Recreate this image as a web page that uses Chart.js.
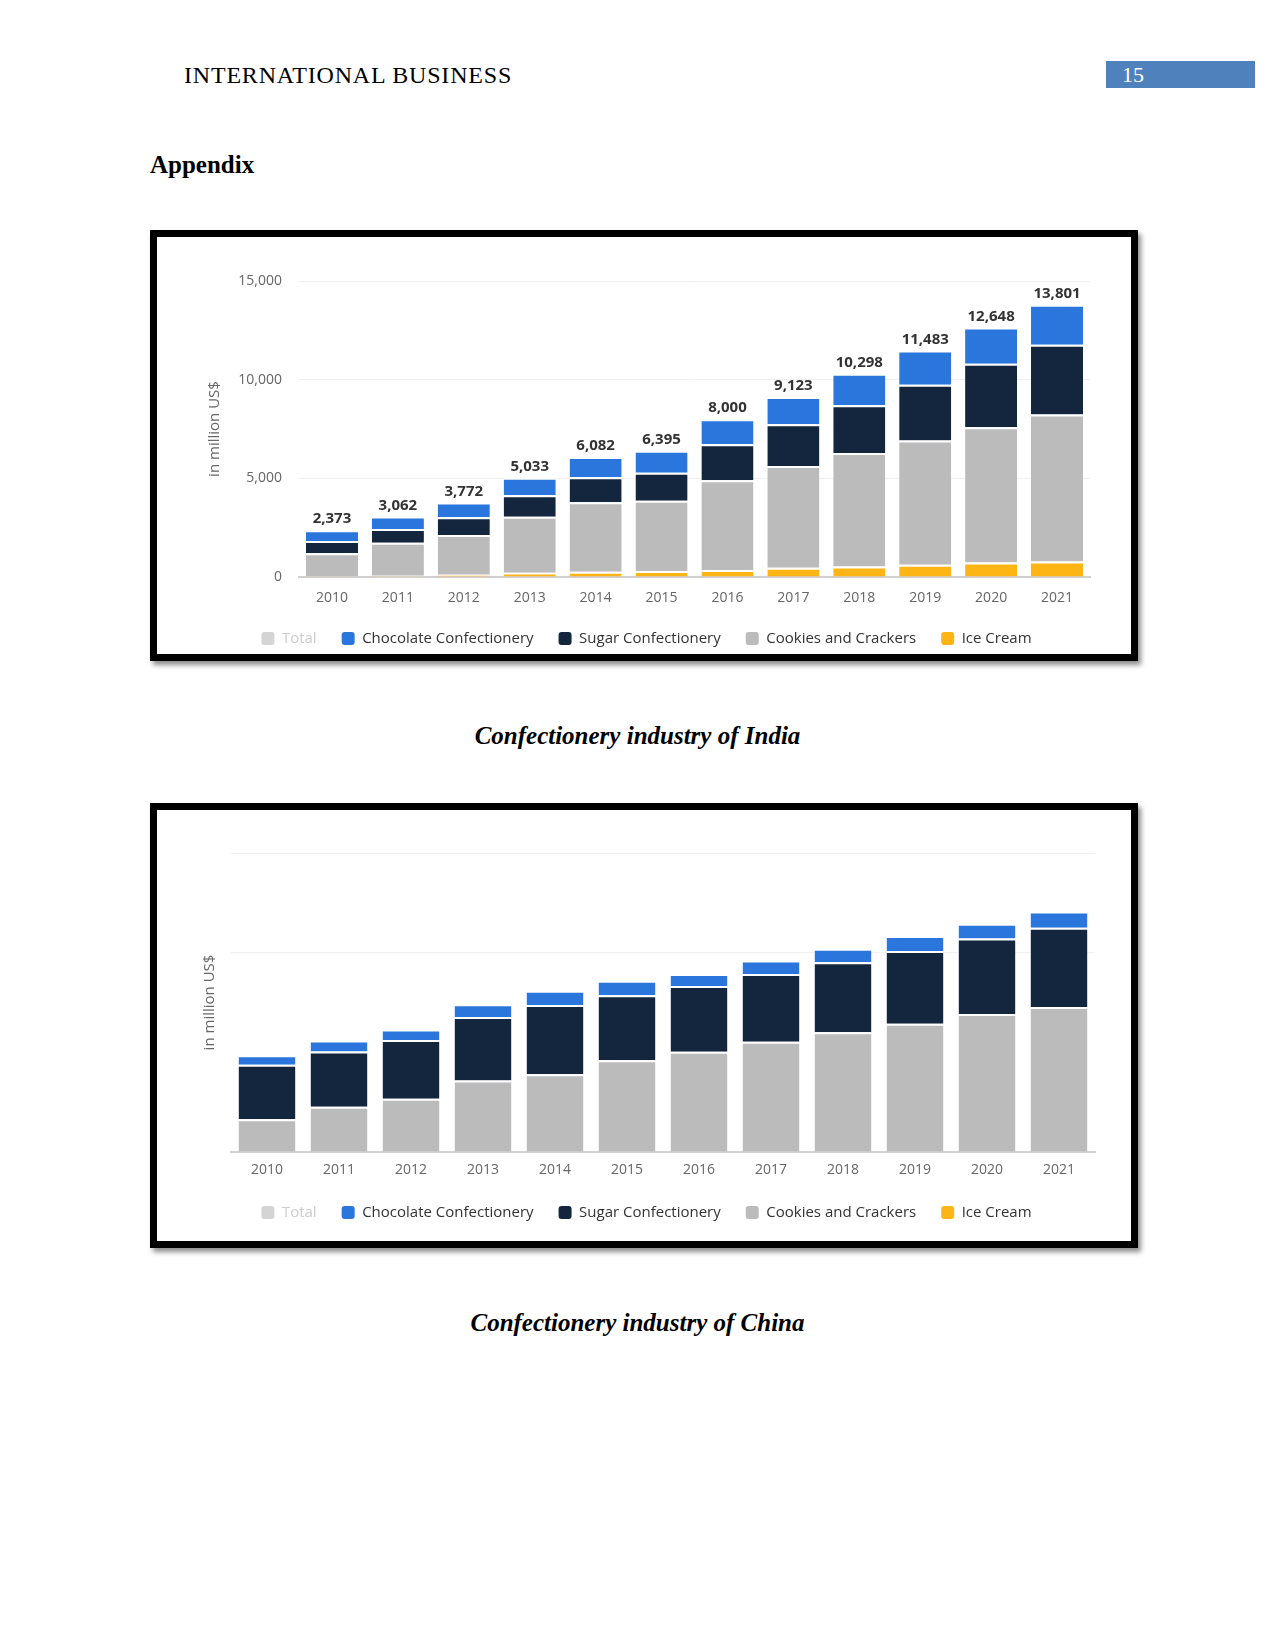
<!DOCTYPE html>
<html>
<head>
<meta charset="utf-8">
<script src="https://cdn.jsdelivr.net/npm/chart.js@4/dist/chart.umd.min.js"></script>
<style>
  body { margin: 0; background: #fff; }
  .page { position: relative; width: 1275px; height: 1650px; background: #fff; font-family: "Liberation Serif", "Times New Roman", serif; }
  .header { position: absolute; left: 184px; top: 61px; font-size: 24px; letter-spacing: 0.8px; line-height: 28px; color: #000; }
  .pagenum { position: absolute; left: 1106px; top: 61px; width: 149px; height: 27px; background: #4f81bd; color: #fff; font-size: 22px; line-height: 27px; padding-left: 16px; box-sizing: border-box; }
  .appendix { position: absolute; left: 150px; top: 151px; font-size: 25px; line-height: 28px; font-weight: bold; }
  .frame { position: absolute; left: 150px; width: 974px; border: 7px solid #000; background: #fff; box-shadow: 3px 4px 5px rgba(0,0,0,0.45); }
  .caption { position: absolute; left: 0; width: 1275px; text-align: center; font-size: 25px; line-height: 28px; font-weight: bold; font-style: italic; }
</style>
</head>
<body>
<div class="page">
  <div class="header">INTERNATIONAL BUSINESS</div>
  <div class="pagenum">15</div>
  <div class="appendix">Appendix</div>

  <div class="frame" style="top:230px;height:417px;"><canvas id="indiaChart" width="974" height="417"></canvas></div>
  <div class="caption" style="top:722px;">Confectionery industry of India</div>

  <div class="frame" style="top:803px;height:431px;"><canvas id="chinaChart" width="974" height="431"></canvas></div>
  <div class="caption" style="top:1309px;">Confectionery industry of China</div>
</div>
<script>
const years = ['2010', '2011', '2012', '2013', '2014', '2015', '2016', '2017', '2018', '2019', '2020', '2021'];

// India, in million US$
const indiaTotals = [2373, 3062, 3772, 5033, 6082, 6395, 8000, 9123, 10298, 11483, 12648, 13801];
const indiaChocolate = [550, 625, 739, 892, 1021, 1113, 1269, 1387, 1591, 1736, 1845, 2026];
const indiaSugar = [614, 699, 903, 1091, 1278, 1414, 1823, 2113, 2419, 2829, 3220, 3545];
const indiaCookies = [1169, 1678, 2020, 2830, 3513, 3568, 4558, 5153, 5758, 6298, 6843, 7440];
const indiaIceCream = [40, 60, 110, 220, 270, 300, 350, 470, 530, 620, 740, 790];
const indiaYTicks = [0, 5000, 10000, 15000];

// China, in million US$ (no axis values shown in the source)
const chinaTotals = [9705, 11175, 12285, 14830, 16180, 17180, 17870, 19210, 20400, 21660, 22910, 24125];
const chinaChocolate = [945, 1085, 1045, 1290, 1420, 1450, 1220, 1350, 1350, 1490, 1490, 1625];
const chinaSugar = [5480, 5550, 5890, 6360, 6970, 6530, 6600, 6800, 7040, 7310, 7580, 7950];
const chinaCookies = [3280, 4540, 5350, 7180, 7790, 9200, 10050, 11060, 12010, 12860, 13840, 14550];
const chinaIceCream = [0, 0, 0, 0, 0, 0, 0, 0, 0, 0, 0, 0];
const chinaYTicks = [0, 10000, 20000, 30000];

const colors = { chocolate: '#2a76dc', sugar: '#13263e', cookies: '#bbbbbb', iceCream: '#fdb515', total: '#d4d4d4' };

Chart.defaults.font.family = '"Open Sans", "DejaVu Sans", sans-serif';
Chart.defaults.animation = false;

const totalLabels = {
  id: 'totalLabels',
  afterDatasetsDraw(chart, args, opts) {
    if (!opts.values) return;
    const meta = chart.getDatasetMeta(3);
    const ctx = chart.ctx;
    ctx.save();
    ctx.font = 'bold 15px "Open Sans", sans-serif';
    ctx.fillStyle = '#333';
    ctx.textAlign = 'center';
    ctx.textBaseline = 'middle';
    meta.data.forEach((bar, i) => {
      ctx.fillText(opts.values[i].toLocaleString('en-US'), bar.x, bar.y - 11);
    });
    ctx.restore();
  }
};

function bar(label, data, color) {
  return {
    label, data, backgroundColor: color, borderColor: '#fff',
    borderWidth: { top: 2, left: 0, right: 0, bottom: 0 },
    barPercentage: 0.79, categoryPercentage: 1
  };
}

function makeChart(id, s) {
  new Chart(document.getElementById(id), {
    type: 'bar',
    data: {
      labels: years,
      datasets: [
        bar('Ice Cream', s.ice, colors.iceCream),
        bar('Cookies and Crackers', s.cookies, colors.cookies),
        bar('Sugar Confectionery', s.sugar, colors.sugar),
        bar('Chocolate Confectionery', s.choc, colors.chocolate),
        Object.assign(bar('Total', s.totals, colors.total), { hidden: true })
      ]
    },
    options: {
      responsive: false,
      layout: { padding: s.padding },
      plugins: {
        tooltip: { enabled: false },
        totalLabels: { values: s.labels },
        legend: {
          position: 'bottom',
          reverse: true,
          labels: {
            boxWidth: 13, boxHeight: 13, padding: 25,
            useBorderRadius: true, borderRadius: 3,
            font: { size: 15 },
            generateLabels(chart) {
              const items = Chart.defaults.plugins.legend.labels.generateLabels(chart);
              return items.map(it => {
                it.lineWidth = 0;
                if (it.text === 'Total') {
                  it.hidden = false;
                  it.fillStyle = colors.total;
                  it.fontColor = '#cccccc';
                } else {
                  it.fontColor = '#333';
                }
                return it;
              });
            }
          }
        }
      },
      scales: {
        x: {
          stacked: true,
          grid: { display: false },
          border: { color: '#d0d0d0', width: 2 },
          ticks: { color: '#666', font: { size: 14 }, padding: s.xPad },
          afterFit: sc => { sc.height = s.xHeight; }
        },
        y: {
          stacked: true,
          min: s.yTicks[0],
          max: s.yTicks[s.yTicks.length - 1],
          ticks: { display: s.showTicks, stepSize: s.yTicks[1] - s.yTicks[0], color: '#666', font: { size: 14 }, padding: 17 },
          grid: {
            color: ctx => (s.hiddenGrid.includes(ctx.tick.value) ? 'rgba(0,0,0,0)' : '#f0f0f0'),
            drawTicks: false
          },
          border: { display: false },
          title: { display: true, text: 'in million US$', color: '#666', font: { size: 15 }, padding: 3 },
          afterFit: sc => { sc.width = s.yWidth; }
        }
      }
    },
    plugins: [totalLabels]
  });
}

makeChart('indiaChart', {
  totals: indiaTotals, choc: indiaChocolate, sugar: indiaSugar, cookies: indiaCookies, ice: indiaIceCream,
  labels: indiaTotals, yTicks: indiaYTicks, showTicks: true, hiddenGrid: [],
  padding: { left: 46, right: 41, top: 44, bottom: -2 }, yWidth: 96, xHeight: 29, xPad: 5
});

makeChart('chinaChart', {
  totals: chinaTotals, choc: chinaChocolate, sugar: chinaSugar, cookies: chinaCookies, ice: chinaIceCream,
  labels: null, yTicks: chinaYTicks, showTicks: false, hiddenGrid: [10000],
  padding: { left: 41, right: 36, top: 43, bottom: 11 }, yWidth: 33, xHeight: 28, xPad: 2
});
</script>
</body>
</html>
